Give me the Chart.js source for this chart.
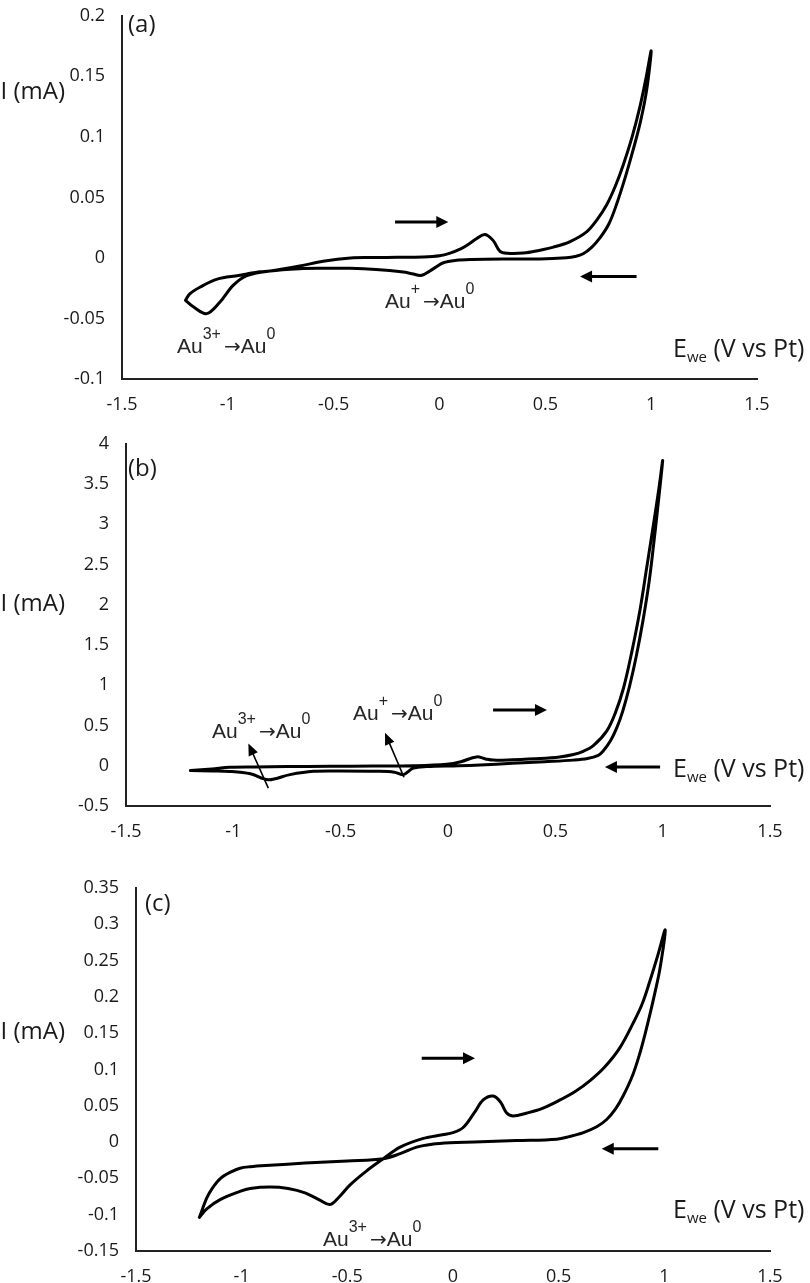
<!DOCTYPE html>
<html>
<head>
<meta charset="utf-8">
<script src="https://cdn.jsdelivr.net/npm/chart.js@4.4.0/dist/chart.umd.min.js"></script>
<style>
html,body{margin:0;padding:0;background:#fff;}
body{width:810px;height:1283px;overflow:hidden;position:relative;}
.panel{position:absolute;left:0;width:810px;}
.lbl{position:absolute;font-family:"Open Sans",sans-serif;color:#1a1a1a;line-height:1;white-space:nowrap;transform:translateY(-50%);font-size:24px;}
.ytitle{left:0;width:65px;text-align:right;}
.ewe{font-size:25px;}
.sub{font-size:15px;position:relative;top:5px;}
.ann{position:absolute;font-family:"Liberation Sans",Arial,sans-serif;font-size:21px;color:#262626;line-height:1;white-space:nowrap;transform:translateY(-50%);}
.sup{font-size:16px;position:relative;top:-14px;}
.gap{margin-right:3px;}
.arr{font-family:"DejaVu Sans",sans-serif;font-size:20px;}
</style>
</head>
<body>
<div class="panel" style="top:-12px;height:436px;"><canvas id="cA" width="810" height="436"></canvas></div>
<div class="panel" style="top:416px;height:435px;"><canvas id="cB" width="810" height="435"></canvas></div>
<div class="panel" style="top:860px;height:436px;"><canvas id="cC" width="810" height="436"></canvas></div>

<div class="lbl ytitle" style="top:90px;">I (mA)</div>
<div class="lbl ytitle" style="top:602px;">I (mA)</div>
<div class="lbl ytitle" style="top:1030px;">I (mA)</div>

<div class="lbl ewe" style="left:673px;top:347px;">E<span class="sub">we</span> (V vs Pt)</div>
<div class="lbl ewe" style="left:673px;top:767px;">E<span class="sub">we</span> (V vs Pt)</div>
<div class="lbl ewe" style="left:673px;top:1208px;">E<span class="sub">we</span> (V vs Pt)</div>

<div class="lbl" style="left:128px;top:23px;">(a)</div>
<div class="lbl" style="left:128px;top:467px;">(b)</div>
<div class="lbl" style="left:145px;top:902px;">(c)</div>

<div class="ann" style="left:177px;top:345px;">Au<span class="sup gap">3+</span><span class="arr">→</span>Au<span class="sup">0</span></div>
<div class="ann" style="left:385px;top:300px;">Au<span class="sup gap">+</span><span class="arr">→</span>Au<span class="sup">0</span></div>
<div class="ann" style="left:212px;top:730px;">Au<span class="sup gap">3+</span><span class="arr">→</span>Au<span class="sup">0</span></div>
<div class="ann" style="left:353px;top:712px;">Au<span class="sup gap">+</span><span class="arr">→</span>Au<span class="sup">0</span></div>
<div class="ann" style="left:323px;top:1238px;">Au<span class="sup gap">3+</span><span class="arr">→</span>Au<span class="sup">0</span></div>

<script>
// ---- Data (V vs Pt, mA) ----
const xTicks = [-1.5, -1, -0.5, 0, 0.5, 1, 1.5];

const potentialA = [-1.2, -1.18, -1.13, -1.05, -0.95, -0.85, -0.8, -0.66, -0.55, -0.42, -0.3, -0.2, -0.08, 0.0, 0.05, 0.1, 0.13, 0.176, 0.215, 0.254, 0.286, 0.32, 0.396, 0.47, 0.538, 0.617, 0.695, 0.742, 0.79, 0.83, 0.868, 0.91, 0.947, 0.975, 1.0,
  0.979, 0.95, 0.916, 0.88, 0.837, 0.80, 0.758, 0.72, 0.679, 0.64, 0.6, 0.475, 0.3, 0.15, 0.081, 0.018, -0.03, -0.084, -0.13, -0.171, -0.3, -0.423, -0.55, -0.66, -0.8, -0.91, -0.975, -1.037, -1.1, -1.163, -1.2];
const currentA = [-0.035, -0.0297, -0.024, -0.0175, -0.0145, -0.0115, -0.0108, -0.0067, -0.0027, 0.0, 0.0003, 0.0005, 0.0008, 0.0018, 0.004, 0.0075, 0.0105, 0.016, 0.0194, 0.0143, 0.0054, 0.0038, 0.004, 0.0062, 0.0089, 0.0135, 0.0215, 0.031, 0.044, 0.059, 0.0768, 0.10, 0.125, 0.148, 0.171,
  0.139, 0.113, 0.090, 0.068, 0.0445, 0.028, 0.0165, 0.009, 0.0035, 0.0012, 0.0002, -0.0008, -0.0008, -0.0012, -0.0019, -0.004, -0.009, -0.0143, -0.013, -0.0116, -0.0095, -0.0086, -0.0086, -0.0089, -0.0108, -0.0146, -0.0227, -0.0364, -0.046, -0.0404, -0.035];
const yTicksA = [-0.1, -0.05, 0, 0.05, 0.1, 0.15, 0.2];

const potentialB = [-1.2, -1.1, -1.016, -0.9, -0.75, -0.55, -0.35, -0.16, -0.006, 0.06, 0.133, 0.175, 0.211, 0.3, 0.43, 0.52, 0.584, 0.63, 0.677, 0.739, 0.78, 0.817, 0.855, 0.894, 0.925, 0.956, 0.98, 1.0,
  0.976, 0.958, 0.937, 0.908, 0.877, 0.845, 0.813, 0.786, 0.757, 0.722, 0.70, 0.65, 0.584, 0.45, 0.3, 0.15, 0.05, -0.1, -0.162, -0.208, -0.25, -0.332, -0.5, -0.627, -0.736, -0.837, -0.92, -1.016, -1.1, -1.2];
const currentB = [-0.06, -0.04, -0.02, -0.015, -0.01, -0.007, -0.004, 0.0, 0.018, 0.05, 0.11, 0.085, 0.07, 0.075, 0.09, 0.11, 0.14, 0.18, 0.25, 0.43, 0.66, 0.96, 1.4, 1.93, 2.45, 2.98, 3.4, 3.79,
  3.18, 2.75, 2.29, 1.8, 1.36, 0.98, 0.67, 0.47, 0.31, 0.18, 0.13, 0.09, 0.07, 0.05, 0.03, 0.01, 0.0, -0.01, -0.03, -0.11, -0.08, -0.069, -0.065, -0.069, -0.11, -0.174, -0.1, -0.07, -0.065, -0.06];
const yTicksB = [-0.5, 0, 0.5, 1, 1.5, 2, 2.5, 3, 3.5, 4];

const potentialC = [-1.2, -1.165, -1.1, -1.008, -0.96, -0.866, -0.78, -0.7, -0.63, -0.582, -0.54, -0.487, -0.41, -0.33, -0.25, -0.14, -0.05, 0.0, 0.048, 0.1, 0.143, 0.19, 0.225, 0.254, 0.285, 0.35, 0.42, 0.5, 0.58, 0.65, 0.72, 0.79, 0.853, 0.895, 0.932, 0.97, 1.004,
  0.98, 0.955, 0.932, 0.91, 0.885, 0.85, 0.806, 0.77, 0.727, 0.68, 0.617, 0.55, 0.491, 0.3, 0.1, -0.014, -0.1, -0.172, -0.25, -0.33, -0.5, -0.7, -0.866, -0.96, -1.008, -1.05, -1.1, -1.14, -1.165, -1.2];
const currentC = [-0.1037, -0.092, -0.079, -0.068, -0.064, -0.062, -0.064, -0.07, -0.08, -0.086, -0.076, -0.059, -0.04, -0.023, -0.007, 0.005, 0.01, 0.013, 0.02, 0.04, 0.058, 0.0634, 0.055, 0.040, 0.036, 0.040, 0.046, 0.057, 0.070, 0.085, 0.104, 0.13, 0.164, 0.19, 0.222, 0.258, 0.292,
  0.24, 0.205, 0.176, 0.150, 0.123, 0.092, 0.064, 0.046, 0.031, 0.021, 0.013, 0.0075, 0.004, 0.002, 0.0, -0.001, -0.003, -0.007, -0.016, -0.023, -0.026, -0.029, -0.032, -0.034, -0.036, -0.041, -0.05, -0.064, -0.077, -0.1037];
const yTicksC = [-0.15, -0.1, -0.05, 0, 0.05, 0.1, 0.15, 0.2, 0.25, 0.3, 0.35];

// scan-direction arrows (annotation, in data units)
const arrowsA = [
  {from: [-0.21, 0.0297], to: [0.0415, 0.0297], w: 3, head: 12, half: 6},
  {from: [0.931, -0.0154], to: [0.664, -0.0154], w: 3, head: 12, half: 6}
];
const arrowsB = [
  {from: [0.21, 0.694], to: [0.461, 0.694], w: 3, head: 12, half: 6},
  {from: [0.988, -0.015], to: [0.731, -0.015], w: 3, head: 12, half: 6},
  {from: [-0.837, -0.277], to: [-0.93, 0.277], w: 1.6, head: 12, half: 5},
  {from: [-0.205, -0.143], to: [-0.2935, 0.41], w: 1.6, head: 12, half: 5}
];
const arrowsC = [
  {from: [-0.148, 0.1155], to: [0.104, 0.1155], w: 3, head: 12, half: 6},
  {from: [0.9715, -0.0094], to: [0.704, -0.0094], w: 3, head: 12, half: 6}
];

const arrowPlugin = {
  id: 'scanArrows',
  afterDatasetsDraw(chart, args, opts) {
    const ctx = chart.ctx, xs = chart.scales.x, ys = chart.scales.y;
    (opts.list || []).forEach(a => {
      const x1 = xs.getPixelForValue(a.from[0]), y1 = ys.getPixelForValue(a.from[1]);
      const x2 = xs.getPixelForValue(a.to[0]), y2 = ys.getPixelForValue(a.to[1]);
      const ang = Math.atan2(y2 - y1, x2 - x1), c = Math.cos(ang), s = Math.sin(ang);
      ctx.save();
      ctx.strokeStyle = '#000'; ctx.fillStyle = '#000'; ctx.lineWidth = a.w;
      ctx.beginPath();
      ctx.moveTo(x1, y1);
      ctx.lineTo(x2 - c * a.head * 0.8, y2 - s * a.head * 0.8);
      ctx.stroke();
      ctx.beginPath();
      ctx.moveTo(x2, y2);
      ctx.lineTo(x2 - a.head * c + a.half * s, y2 - a.head * s - a.half * c);
      ctx.lineTo(x2 - a.head * c - a.half * s, y2 - a.head * s + a.half * c);
      ctx.closePath();
      ctx.fill();
      ctx.restore();
    });
  }
};

const tickFont = {family: '"Open Sans", sans-serif', size: 18};

function makePanel(id, potential, current, yTicks, yWidth, rightPad, arrows) {
  const pts = potential.map((v, i) => ({x: v, y: current[i]}));
  return new Chart(document.getElementById(id), {
    type: 'scatter',
    data: {datasets: [{
      data: pts, showLine: true, pointRadius: 0, borderColor: '#000', borderWidth: 3,
      tension: 0.35, borderJoinStyle: 'round', borderCapStyle: 'round', fill: false
    }]},
    options: {
      responsive: false, animation: false, devicePixelRatio: 1,
      layout: {padding: {top: 20, left: 0, right: rightPad, bottom: 0}},
      plugins: {legend: {display: false}, tooltip: {enabled: false}, scanArrows: {list: arrows}},
      scales: {
        x: {
          type: 'linear', min: xTicks[0], max: xTicks[xTicks.length - 1],
          grid: {display: false, drawTicks: false},
          border: {display: true, color: '#222', width: 2},
          ticks: {font: tickFont, color: '#1a1a1a', padding: 15, callback: v => String(v)},
          afterBuildTicks: s => { s.ticks = xTicks.map(v => ({value: v})); },
          afterFit: s => { s.height = 45; }
        },
        y: {
          type: 'linear', min: yTicks[0], max: yTicks[yTicks.length - 1],
          grid: {display: false, drawTicks: false},
          border: {display: true, color: '#222', width: 2},
          ticks: {font: tickFont, color: '#1a1a1a', padding: 17, callback: v => String(v)},
          afterBuildTicks: s => { s.ticks = yTicks.map(v => ({value: v})); },
          afterFit: s => { s.width = yWidth; }
        }
      }
    },
    plugins: [arrowPlugin]
  });
}

makePanel('cA', potentialA, currentA, yTicksA, 122, 53, arrowsA);
makePanel('cB', potentialB, currentB, yTicksB, 126, 40, arrowsB);
makePanel('cC', potentialC, currentC, yTicksC, 136, 40, arrowsC);
</script>
</body>
</html>
